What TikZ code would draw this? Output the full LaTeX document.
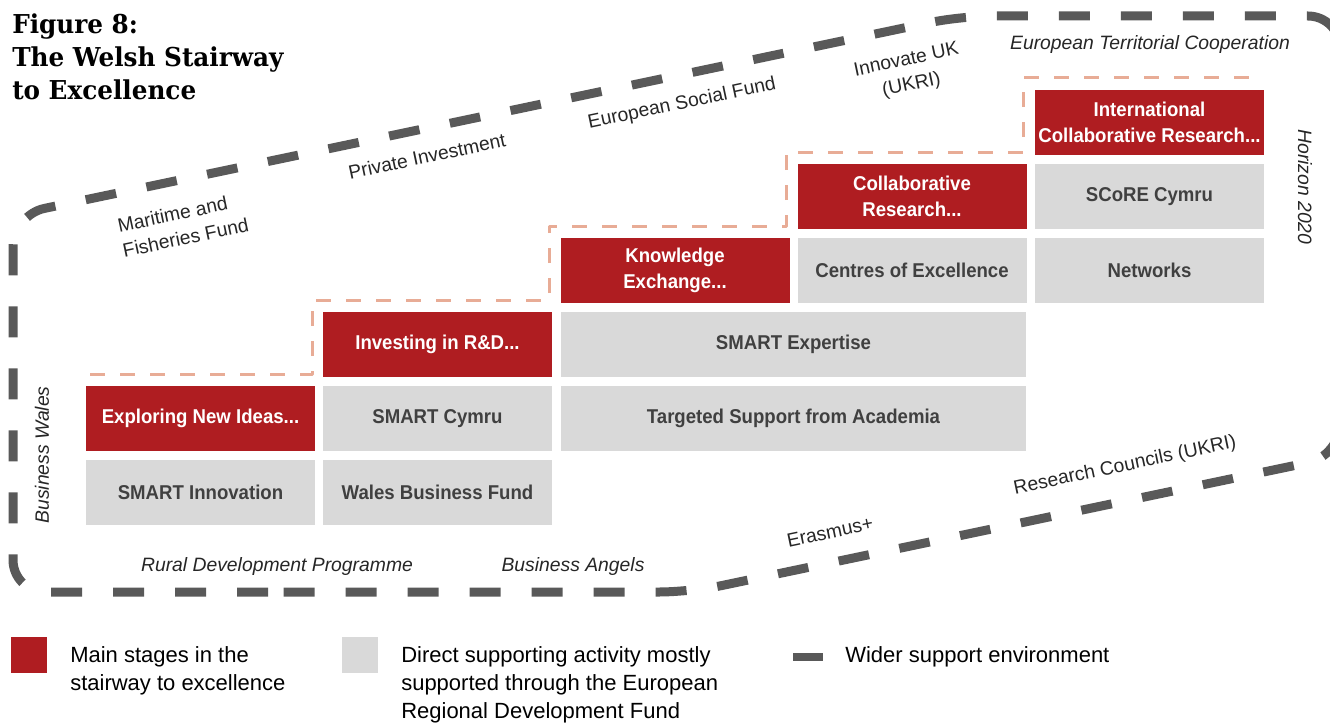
\documentclass[tikz,border=0pt]{standalone}
\usepackage{fontspec}
\setmainfont{Liberation Sans}
\newfontfamily\boxfont[FakeStretch=0.93]{Liberation Sans}
\newfontfamily\titlefont[FakeStretch=0.95,BoldFont={DejaVu Serif Bold}]{DejaVu Serif}
\definecolor{stairred}{RGB}{175,29,33}
\definecolor{stairgrey}{RGB}{217,217,217}
\definecolor{envgrey}{RGB}{89,89,89}
\definecolor{stepline}{RGB}{232,172,150}
\definecolor{boxtext}{RGB}{64,64,64}
\begin{document}
\begin{tikzpicture}[x=0.75pt,y=-0.75pt,line join=round,
	font=\fontsize{14.5}{19}\selectfont,
	stage/.style={fill=stairred,text=white,minimum width=171.75pt,minimum height=48.75pt,inner sep=0pt,align=center,
		font=\boxfont\bfseries\fontsize{15}{20}\selectfont},
	support/.style={stage,fill=stairgrey,text=boxtext},
	wide/.style={minimum width=348.75pt},
	fund/.style={text=black!85,align=center,rotate=11.9},
	env/.style={draw=envgrey,line width=6.75pt,dash pattern=on 23.25pt off 23.25pt,rounded corners=24pt},
	stairline/.style={draw=stepline,line width=2.25pt,dash pattern=on 11.25pt off 11.25pt},
	key/.style={minimum size=27pt,inner sep=0pt},
	keytext/.style={anchor=west,align=left,inner sep=0pt,font=\fontsize{16.5}{21}\selectfont}]
	\useasboundingbox (0,0) rectangle (1330,724);
	\node[anchor=north west,align=left,inner sep=0pt,font=\titlefont\bfseries\fontsize{19.5}{24.75}\selectfont] (title) at (12,13) {Figure 8:\\The Welsh Stairway\\to Excellence};
	% wider support environment
	\begin{scope}
		\clip (0,0) rectangle (1330,724);
		\draw[env] (300,592) -- (13,592) -- (13,215) -- (961,16) -- (1340,16) -- (1340,456) -- (691,592) -- cycle;
	\end{scope}
	% the steps
	\draw[stairline] (90,374) -- (312,374) -- (312,300) -- (549,300) -- (549,226) -- (786,226) -- (786,152) -- (1023,152) -- (1023,78) -- (1255,78);
	\node[stage] (explore) at (200.5,418.5) {Exploring New Ideas...};
	\node[support] (smartinno) at (200.5,492.5) {SMART Innovation};
	\node[stage] (invest) at (437.5,344.5) {Investing in R\&D...};
	\node[support] (smartcym) at (437.5,418.5) {SMART Cymru};
	\node[support] (walesbf) at (437.5,492.5) {Wales Business Fund};
	\node[stage] (knowex) at (675,270.5) {Knowledge\\Exchange...};
	\node[support,wide] (smartexp) at (793.5,344.5) {SMART Expertise};
	\node[support,wide] (targeted) at (793.5,418.5) {Targeted Support from Academia};
	\node[stage] (collab) at (912,196.5) {Collaborative\\Research...};
	\node[support] (centres) at (912,270.5) {Centres of Excellence};
	\node[stage] (intl) at (1149.5,122.5) {International\\Collaborative Research...};
	\node[support] (score) at (1149.5,196.5) {SCoRE Cymru};
	\node[support] (networks) at (1149.5,270.5) {Networks};
	% funding labels
	\node[fund,align=left] (maritime) at (183,225) {Maritime and\\Fisheries Fund};
	\node[fund] (private) at (427,156) {Private Investment};
	\node[fund] (esf) at (682,104) {European Social Fund};
	\node[fund] (innovate) at (909,73) {Innovate UK\\(UKRI)};
	\node[text=black!85] (etc) at (1150,45) {\itshape European Territorial Cooperation};
	\node[text=black!85,rotate=-90] (horizon) at (1305,187) {\itshape Horizon 2020};
	\node[text=black!85,rotate=90] (buswales) at (42,455) {\itshape Business Wales};
	\node[text=black!85] (rural) at (277,566) {\itshape Rural Development Programme};
	\node[text=black!85] (angels) at (573,566) {\itshape Business Angels};
	\node[fund] (erasmus) at (830,532) {Erasmus+};
	\node[fund] (councils) at (1125,466) {Research Councils (UKRI)};
	% key
	\node[key,fill=stairred] (keyred) at (29,655) {};
	\node[keytext] (keyredtext) at (70,671) {Main stages in the\\stairway to excellence};
	\node[key,fill=stairgrey] (keygrey) at (360,655) {};
	\node[keytext] (keygreytext) at (401,685) {Direct supporting activity mostly\\supported through the European\\Regional Development Fund};
	\node[fill=envgrey,minimum width=22.5pt,minimum height=6pt,inner sep=0pt] (keyenv) at (808,657) {};
	\node[keytext] (keyenvtext) at (845,657) {Wider support environment};
\end{tikzpicture}
\end{document}
